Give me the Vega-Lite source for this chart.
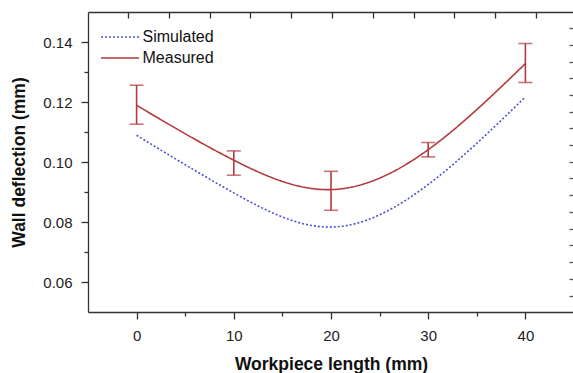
{
  "$schema": "https://vega.github.io/schema/vega-lite/v6.json",
  "width": 486,
  "height": 300,
  "autosize": {"type": "none"},
  "padding": {"left": 88, "top": 12, "right": 0, "bottom": 61},
  "background": "white",
  "config": {
    "view": {"stroke": null},
    "font": "Liberation Sans",
    "axis": {
      "grid": false,
      "domainColor": "#333",
      "tickColor": "#333",
      "labelColor": "#222",
      "titleColor": "#111",
      "domainWidth": 1.3,
      "tickWidth": 1.3,
      "labelFont": "Liberation Sans",
      "titleFont": "Liberation Sans"
    }
  },
  "datasets": {
    "d": [
      {"series": "Simulated", "x": 0, "y": 0.1089},
      {"series": "Simulated", "x": 10, "y": 0.0897},
      {"series": "Simulated", "x": 20, "y": 0.0783},
      {"series": "Simulated", "x": 30, "y": 0.0925},
      {"series": "Simulated", "x": 40, "y": 0.1217},
      {"series": "Measured", "x": 0, "y": 0.1189, "lo": 0.1126, "hi": 0.1256},
      {"series": "Measured", "x": 10, "y": 0.1006, "lo": 0.0956, "hi": 0.1037},
      {"series": "Measured", "x": 20, "y": 0.0908, "lo": 0.0839, "hi": 0.0969},
      {"series": "Measured", "x": 30, "y": 0.1041, "lo": 0.1017, "hi": 0.1065},
      {"series": "Measured", "x": 40, "y": 0.1328, "lo": 0.1265, "hi": 0.1395}
    ]
  },
  "data": {"name": "d"},
  "layer": [
    {
      "mark": {"type": "line", "interpolate": "natural", "strokeWidth": 1.6},
      "encoding": {
        "x": {"field": "x", "type": "quantitative",
          "scale": {"domain": [-5, 45], "nice": false, "zero": false},
          "axis": {"orient": "bottom", "values": [0, 10, 20, 30, 40], "tickSize": 7, "labelFontSize": 15, "labelPadding": 9,
            "title": "Workpiece length (mm)", "titleFontSize": 17.5, "titleFontWeight": "bold", "titlePadding": 12}},
        "y": {"field": "y", "type": "quantitative",
          "scale": {"domain": [0.05, 0.15], "nice": false, "zero": false},
          "axis": {"orient": "left", "values": [0.06, 0.08, 0.1, 0.12, 0.14], "format": ".2f", "tickSize": 7, "labelFontSize": 15, "labelPadding": 9,
            "title": "Wall deflection (mm)", "titleFontSize": 17.5, "titleFontWeight": "bold", "titlePadding": 14}},
        "color": {"field": "series", "type": "nominal",
          "scale": {"domain": ["Simulated", "Measured"], "range": ["#5050d4", "#b23a3e"]},
          "legend": {"orient": "none", "legendX": 21.5, "legendY": 14.5, "title": null, "symbolType": "M-2,0H2", "symbolSize": 361, "symbolStrokeWidth": 1.6, "labelFontSize": 16, "labelOffset": 12, "rowPadding": 2, "padding": 0, "labelColor": "#111", "labelFont": "Liberation Sans"}},
        "strokeDash": {"field": "series", "type": "nominal",
          "scale": {"domain": ["Simulated", "Measured"], "range": [[2, 2], [1, 0]]},
          "legend": {"orient": "none", "legendX": 21.5, "legendY": 14.5, "title": null, "symbolType": "M-2,0H2", "symbolSize": 361, "symbolStrokeWidth": 1.6, "labelFontSize": 16, "labelOffset": 12, "rowPadding": 2, "padding": 0, "labelColor": "#111", "labelFont": "Liberation Sans"}}
      }
    },
    {
      "transform": [{"filter": "datum.series === 'Measured'"}],
      "mark": {"type": "rule", "strokeWidth": 1.6, "color": "#b23a3e"},
      "encoding": {
        "x": {"field": "x", "type": "quantitative",
          "scale": {"domain": [-5, 45], "nice": false, "zero": false},
          "axis": {"orient": "bottom", "values": [5, 15, 25, 35], "tickSize": 4, "labels": false, "domain": false, "title": null}},
        "y": {"field": "lo", "type": "quantitative",
          "scale": {"domain": [0.05, 0.15], "nice": false, "zero": false},
          "axis": {"orient": "left", "values": [0.07, 0.09, 0.11, 0.13], "tickSize": 4, "labels": false, "domain": false, "title": null}},
        "y2": {"field": "hi"}
      }
    },
    {
      "transform": [{"filter": "datum.series === 'Measured'"}],
      "mark": {"type": "tick", "orient": "horizontal", "size": 14, "thickness": 1.6, "color": "#b23a3e"},
      "encoding": {
        "x": {"field": "x", "type": "quantitative",
          "scale": {"domain": [-5, 45], "nice": false, "zero": false},
          "axis": {"orient": "top", "values": [-0.885, 3.31, 7.51, 11.71, 15.91, 20.11, 24.3, 28.5, 32.7, 36.9, 41.09], "tickSize": -6, "labels": false, "domain": true, "title": null}},
        "y": {"field": "hi", "type": "quantitative",
          "scale": {"domain": [0.05, 0.15], "nice": false, "zero": false},
          "axis": {"orient": "right", "values": [0.1446, 0.139, 0.1334, 0.1279, 0.1223, 0.1167, 0.1112, 0.1056, 0.1, 0.0945, 0.0889, 0.0833, 0.0778, 0.0722, 0.0667, 0.0611, 0.0555], "tickSize": -5, "labels": false, "domain": false, "title": null, "tickColor": "#555"}}
      }
    },
    {
      "transform": [{"filter": "datum.series === 'Measured'"}],
      "mark": {"type": "tick", "orient": "horizontal", "size": 14, "thickness": 1.6, "color": "#b23a3e"},
      "encoding": {
        "x": {"field": "x", "type": "quantitative",
          "scale": {"domain": [-5, 45], "nice": false, "zero": false}, "axis": null},
        "y": {"field": "lo", "type": "quantitative",
          "scale": {"domain": [0.05, 0.15], "nice": false, "zero": false}, "axis": null}
      }
    }
  ],
  "resolve": {"axis": {"x": "independent", "y": "independent"}}
}
